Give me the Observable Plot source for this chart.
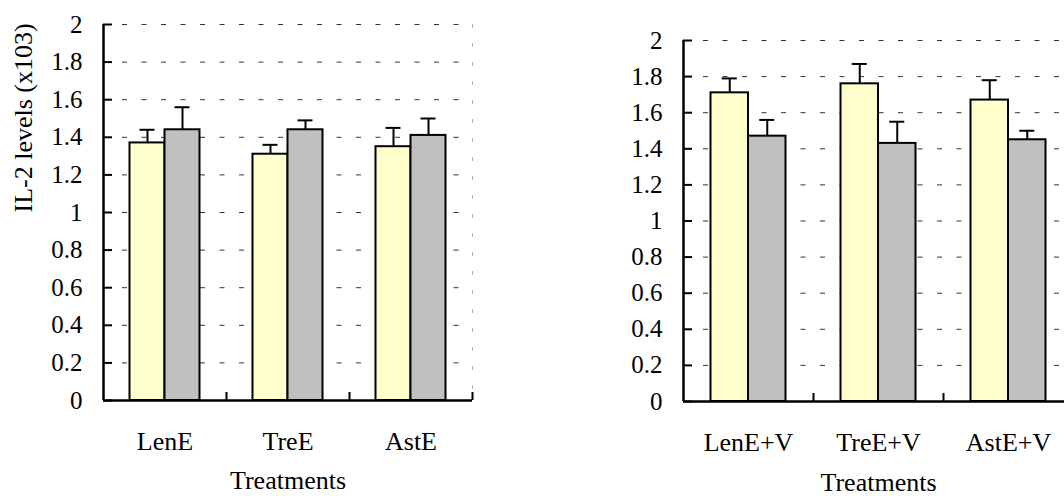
<!DOCTYPE html>
<html><head><meta charset="utf-8">
<script src="https://cdn.jsdelivr.net/npm/d3@7"></script>
<script src="https://cdn.jsdelivr.net/npm/@observablehq/plot@0.6"></script>
<style>
body{margin:0;background:#fff;overflow:hidden}
#wrap{position:relative;width:1064px;height:496px;overflow:hidden;background:#fff}
.panel{position:absolute;top:0}
</style>
</head><body><div id="wrap"></div>
<script>
// ---- data ----
const yTicks = [0, 0.2, 0.4, 0.6, 0.8, 1, 1.2, 1.4, 1.6, 1.8, 2];
const yTitle = "IL-2 levels (x103)";
const xTitle = "Treatments";

const leftCategories = ["LenE", "TreE", "AstE"];
const leftYellow = [1.37, 1.31, 1.35];
const leftYellowErr = [0.07, 0.05, 0.10];
const leftGrey = [1.44, 1.44, 1.41];
const leftGreyErr = [0.12, 0.05, 0.09];

const rightCategories = ["LenE+V", "TreE+V", "AstE+V"];
const rightYellow = [1.71, 1.76, 1.67];
const rightYellowErr = [0.08, 0.11, 0.11];
const rightGrey = [1.47, 1.43, 1.45];
const rightGreyErr = [0.09, 0.12, 0.05];

const yellowFill = "#FFFFCC";
const greyFill = "#C0C0C0";
const FONT = "Liberation Serif";

function panel(o) {
  const plotW = o.width - o.marginLeft - o.marginRight;
  const plotH = o.height - o.marginTop - o.marginBottom;
  const half = plotW / o.cats.length / 2;
  const bw = o.barW;
  const capHalf = 7.5;
  const rowsY = o.cats.map((c, i) => ({cat: c, v: o.v1[i], e: o.e1[i]}));
  const rowsG = o.cats.map((c, i) => ({cat: c, v: o.v2[i], e: o.e2[i]}));
  const fmt = d => String(+d.toFixed(1));
  return Plot.plot({
    width: o.width, height: o.height,
    marginLeft: o.marginLeft, marginRight: o.marginRight,
    marginTop: o.marginTop, marginBottom: o.marginBottom,
    style: {fontFamily: FONT, fontSize: "25px", color: "#000", background: "transparent", overflow: "visible"},
    x: {type: "band", domain: o.cats, padding: 0, axis: null},
    y: {domain: [0, 2], axis: null},
    marks: [
      // dashed gridlines
      Plot.ruleY(yTicks.filter(d => d > 0), {stroke: "#333", strokeWidth: 1, strokeDasharray: "5,14.5", insetLeft: o.gridStart}),
      // dashed right border
      Plot.ruleX([o.cats[o.cats.length - 1]], {dx: half, stroke: "#b0b0b0", strokeWidth: 1, strokeDasharray: "4,15"}),
      // bars
      Plot.barY(rowsY, {x: "cat", y: "v", fill: yellowFill, stroke: "#000", strokeWidth: 2,
        insetLeft: half - bw, insetRight: half}),
      Plot.barY(rowsG, {x: "cat", y: "v", fill: greyFill, stroke: "#000", strokeWidth: 2,
        insetLeft: half, insetRight: half - bw}),
      // error bars
      Plot.ruleX(rowsY, {x: "cat", y1: "v", y2: d => d.v + d.e, dx: -bw / 2, stroke: "#000", strokeWidth: 2}),
      Plot.ruleX(rowsG, {x: "cat", y1: "v", y2: d => d.v + d.e, dx: bw / 2, stroke: "#000", strokeWidth: 2}),
      Plot.tickY(rowsY, {x: "cat", y: d => d.v + d.e, dx: -bw / 2, insetLeft: half - capHalf, insetRight: half - capHalf, stroke: "#000", strokeWidth: 2}),
      Plot.tickY(rowsG, {x: "cat", y: d => d.v + d.e, dx: bw / 2, insetLeft: half - capHalf, insetRight: half - capHalf, stroke: "#000", strokeWidth: 2}),
      // inside y ticks
      Plot.ruleY(yTicks, {insetRight: plotW - 9, stroke: "#000", strokeWidth: 2}),
      // x boundary ticks (short, pointing up from the axis)
      Plot.ruleX(o.cats, {x: d => d, y1: 2, y2: 0, dx: half, insetTop: plotH - 8, stroke: "#000", strokeWidth: 2}),
      // axis lines
      Plot.ruleY([0], {stroke: "#000", strokeWidth: 2.5}),
      Plot.ruleX([o.cats[0]], {dx: -half, stroke: "#000", strokeWidth: 2.5}),
      // tick labels
      Plot.text(yTicks, {y: d => d, text: fmt, frameAnchor: "left", textAnchor: "end", dx: -21,
        fontSize: 25, fontFamily: FONT, fill: "#000"}),
      Plot.text(o.cats, {x: d => d, text: d => d, frameAnchor: "bottom", lineAnchor: "bottom", dy: 49,
        fontSize: 26, fontFamily: FONT, fill: "#000"}),
      // titles
      Plot.text([xTitle], {text: d => d, frameAnchor: "bottom", lineAnchor: "bottom", dy: o.xTitleDy, fontSize: 26, fontFamily: FONT, fill: "#000"}),
      ...(o.showYTitle ? [Plot.text([yTitle], {text: d => d, frameAnchor: "left", rotate: -90, dx: -80, fontSize: 26, fontFamily: FONT, fill: "#000"})] : [])
    ]
  });
}

const wrap = document.getElementById("wrap");
const left = panel({cats: leftCategories, v1: leftYellow, e1: leftYellowErr, v2: leftGrey, e2: leftGreyErr,
  width: 480, height: 496, marginLeft: 103, marginRight: 8, marginTop: 24, marginBottom: 96, barW: 35,
  xTitleDy: 88, showYTitle: true, gridStart: 19});
left.classList.add("panel"); left.style.left = "0px";
wrap.appendChild(left);

const right = panel({cats: rightCategories, v1: rightYellow, e1: rightYellowErr, v2: rightGrey, e2: rightGreyErr,
  width: 473, height: 496, marginLeft: 83, marginRight: 0, marginTop: 40, marginBottom: 95, barW: 37.5,
  xTitleDy: 89, showYTitle: false, gridStart: 20});
right.classList.add("panel"); right.style.left = "600px";
wrap.appendChild(right);
</script>
</body></html>
